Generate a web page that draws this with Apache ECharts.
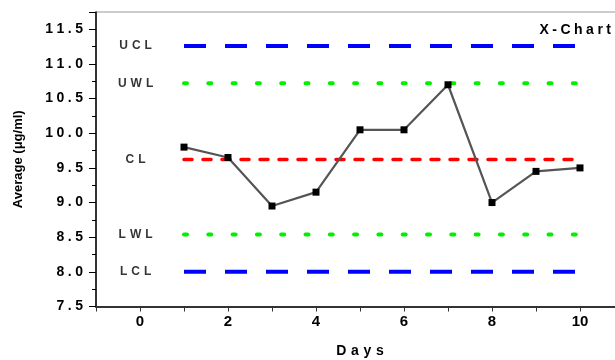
<!DOCTYPE html>
<html>
<head>
<meta charset="utf-8">
<script src="https://cdn.jsdelivr.net/npm/echarts@6/dist/echarts.min.js"></script>
<style>
html,body{margin:0;padding:0;background:#fff;}
#chart{width:615px;height:360px;}
</style>
</head>
<body>
<div id="chart"></div>
<script>
const days = [1, 2, 3, 4, 5, 6, 7, 8, 9, 10];
const averages = [9.8, 9.65, 8.95, 9.15, 10.05, 10.05, 10.7, 9.0, 9.45, 9.5];
const limitNames = ['UCL', 'UWL', 'CL', 'LWL', 'LCL'];
const limitValues = [11.26, 10.72, 9.62, 8.54, 8.0];
const limitColors = ['#0000ff', '#00f000', '#ff0000', '#00f000', '#0000ff'];
const limitDashes = [[22, 19], [3, 21.3], [8, 11], [3, 21.3], [22, 19]];
const limitCaps = ['butt', 'round', 'round', 'round', 'butt'];
const xTickLabels = [0, 2, 4, 6, 8, 10];
const yTickLabels = [7.5, 8.0, 8.5, 9.0, 9.5, 10.0, 10.5, 11.0, 11.5];

const FONT = 'Liberation Sans, Arial, sans-serif';
const sp3 = '\u2004';
const sp4 = '\u2005';
const spaced = (s, sp) => s.split('').join(sp);

const chart = echarts.init(document.getElementById('chart'), null, {renderer: 'canvas'});

const series = [];
limitValues.forEach((v, i) => {
  series.push({
    type: 'line',
    name: limitNames[i],
    data: [[days[0], v], [days[days.length - 1], v]],
    symbol: 'none',
    silent: true,
    z: 2,
    lineStyle: {color: limitColors[i], width: i === 2 ? 3.5 : 4, type: limitDashes[i], cap: limitCaps[i]}
  });
});
series.push({
  type: 'scatter',
  data: limitNames.map((n, i) => ({name: n, value: [-0.1, limitValues[i]]})),
  symbolSize: 0,
  silent: true,
  label: {
    show: true,
    position: 'inside',
    formatter: p => spaced(p.name, sp3),
    fontFamily: FONT,
    fontWeight: 'bold',
    fontSize: 12,
    color: '#000'
  }
});
series.push({
  type: 'line',
  name: 'Average',
  data: days.map((d, i) => [d, averages[i]]),
  symbol: 'rect',
  symbolSize: 7,
  z: 5,
  lineStyle: {color: '#555', width: 2.2},
  itemStyle: {color: '#000', borderWidth: 0}
});

chart.setOption({
  animation: false,
  backgroundColor: '#fff',
  grid: {left: 96, top: 12, width: 528, bottom: 53.5, outerBoundsMode: 'none', containLabel: false, show: true, borderColor: '#999', borderWidth: 1, backgroundColor: 'transparent'},
  graphic: [{
    type: 'text',
    right: 4,
    top: 23,
    style: {text: spaced('X-Chart', sp4), font: 'bold 14px ' + FONT, fill: '#000'}
  }],
  xAxis: {
    type: 'value',
    min: -1,
    max: 11,
    interval: 1,
    name: spaced('Days', sp3),
    nameLocation: 'middle',
    nameGap: 38,
    nameTextStyle: {fontFamily: FONT, fontWeight: 'bold', fontSize: 14, color: '#000'},
    axisLine: {onZero: false, lineStyle: {color: '#333', width: 2}},
    axisTick: {show: true, inside: false, length: 5, lineStyle: {color: '#333', width: 1}},
    axisLabel: {
      margin: 8,
      fontFamily: FONT,
      fontWeight: 'bold',
      fontSize: 15,
      color: '#000',
      formatter: v => xTickLabels.indexOf(Math.round(v)) >= 0 && Math.abs(v - Math.round(v)) < 1e-6 ? String(Math.round(v)) : ''
    },
    splitLine: {show: false}
  },
  yAxis: {
    type: 'value',
    min: 7.5,
    max: 11.75,
    interval: 0.5,
    name: 'Average (\u03bcg/ml)',
    nameLocation: 'middle',
    nameGap: 71,
    nameRotate: 90,
    nameTextStyle: {fontFamily: FONT, fontWeight: 'bold', fontSize: 13, color: '#000'},
    axisLine: {show: true, onZero: false, lineStyle: {color: '#000', width: 1.5}},
    axisTick: {show: true, inside: false, length: 7, lineStyle: {color: '#000', width: 1}},
    minorTick: {show: true, splitNumber: 2, length: 4, lineStyle: {color: '#000', width: 1}},
    axisLabel: {
      margin: 13,
      fontFamily: FONT,
      fontWeight: 'bold',
      fontSize: 14,
      color: '#000',
      showMaxLabel: false,
      formatter: v => {
        const m = yTickLabels.find(t => Math.abs(t - v) < 1e-6);
        return m === undefined ? '' : spaced(m.toFixed(1), sp4);
      }
    },
    splitLine: {show: false},
    minorSplitLine: {show: false}
  },
  series: series
});
</script>
</body>
</html>
